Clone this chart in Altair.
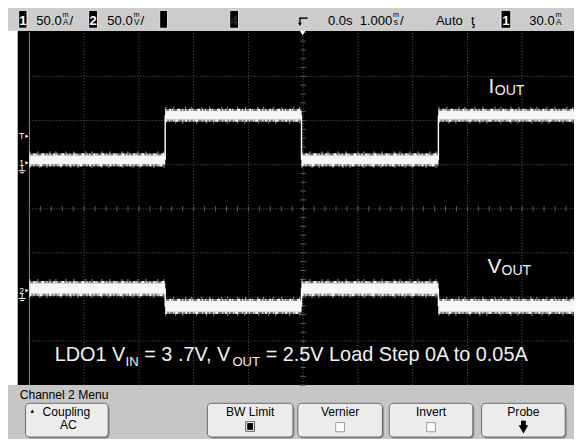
import altair as alt
import pandas as pd

# ---------------- values read from the oscilloscope screen ----------------
# time base 1.000 ms/div, delay 0.0 s -> 10 divisions from -5 ms to +5 ms
time_grid_ms = [-4, -3, -2, -1, 0, 1, 2, 3, 4]
vert_grid_div = [-3, -2, -1, 0, 1, 2, 3]

# channel 1 : load current (50.0 mA/div)
i_seg_start_ms = [-5.0, -2.52, -0.03, 2.47]
i_seg_end_ms = [-2.52, -0.03, 2.47, 4.95]
i_level_mA = [3.3, 53.8, 3.3, 53.8]
i_noise_mA = [4.8, 4.8, 4.8, 4.8]
i_edge_ms = [-2.52, -0.03, 2.47]

# channel 2 : output voltage, AC coupled (50.0 mV/div)
v_seg_start_ms = [-5.0, -2.52, -0.03, 2.47]
v_seg_end_ms = [-2.52, -0.03, 2.47, 4.95]
v_level_mV = [2.2, -18.0, 2.2, -18.0]
v_noise_mV = [6.0, 6.0, 6.0, 6.0]
v_edge_ms = [-2.52, -0.03, 2.47]

trigger_level_mA = [30.0]

# ---------------- layout (reference pixel geometry) ----------------
REF_W, REF_H = 582, 447
W, H = 566, 431
SX, SY = W / REF_W, H / REF_H
FS = (SX + SY) / 2
GRID_CX, GRID_DX = 303.5, 56.3
GRID_CY, GRID_DY = 208.2, 45.75
CH1_GND_Y, CH2_GND_Y = 160.5, 293.0
MA_PER_DIV, MV_PER_DIV = 50.0, 50.0

t_min = (0 - GRID_CX) / GRID_DX
t_max = (REF_W - GRID_CX) / GRID_DX
div_min = (GRID_CY - REF_H) / GRID_DY
div_max = GRID_CY / GRID_DY
g1 = (GRID_CY - CH1_GND_Y) / GRID_DY
g2 = (GRID_CY - CH2_GND_Y) / GRID_DY

xs = alt.Scale(domain=[t_min, t_max], nice=False, zero=False)
ds = alt.Scale(domain=[div_min, div_max], nice=False, zero=False)
s1 = alt.Scale(domain=[(div_min - g1) * MA_PER_DIV, (div_max - g1) * MA_PER_DIV], nice=False, zero=False)
s2 = alt.Scale(domain=[(div_min - g2) * MV_PER_DIV, (div_max - g2) * MV_PER_DIV], nice=False, zero=False)

HDR = "Liberation Sans, Arial, Helvetica, sans-serif"
SANS = "Liberation Sans, Arial, Helvetica, sans-serif"
ONE = pd.DataFrame({"k": [0]})


def X(x):
    return x * SX


def Y(y):
    return y * SY


def box(x0, y0, x1, y1, fill, stroke=None, sw=1.0, r=0):
    kw = dict(fill=fill, cornerRadius=r)
    if stroke:
        kw.update(stroke=stroke, strokeWidth=sw)
    else:
        kw.update(strokeWidth=0)
    return alt.Chart(ONE).mark_rect(**kw).encode(
        x=alt.value(X(x0)), x2=alt.value(X(x1)), y=alt.value(Y(y0)), y2=alt.value(Y(y1)))


def label(txt, x, y, size, color="black", font=HDR, align="left", weight="normal"):
    return alt.Chart(ONE).mark_text(
        text=txt, font=font, fontSize=size * FS, color=color, align=align,
        baseline="alphabetic", fontWeight=weight).encode(x=alt.value(X(x)), y=alt.value(Y(y)))


def hline(x0, x1, y, color="black", sw=1.0):
    return alt.Chart(ONE).mark_rule(color=color, strokeWidth=sw).encode(
        x=alt.value(X(x0)), x2=alt.value(X(x1)), y=alt.value(Y(y)))


def vline(x, y0, y1, color="black", sw=1.0):
    return alt.Chart(ONE).mark_rule(color=color, strokeWidth=sw).encode(
        x=alt.value(X(x)), y=alt.value(Y(y0)), y2=alt.value(Y(y1)))


def glyph(shape, x, y, size, color):
    return alt.Chart(ONE).mark_point(shape=shape, filled=True, size=size, color=color, opacity=1).encode(
        x=alt.value(X(x)), y=alt.value(Y(y)))


layers = []

# ---------- backgrounds ----------
layers.append(box(10, 23.5, REF_W, 391, "black"))
layers.append(box(0, 0, REF_W, 23.5, "#cccccc"))
layers.append(box(0, 391, REF_W, REF_H, "#c6c6c6"))

# ---------- graticule ----------
vg = pd.DataFrame({"t": time_grid_ms, "a": [-4] * len(time_grid_ms), "b": [4] * len(time_grid_ms)})
layers.append(alt.Chart(vg).mark_rule(color="#5c5c5c", strokeWidth=1, strokeDash=[1, 2]).encode(
    x=alt.X("t:Q", scale=xs, axis=None), y=alt.Y("a:Q", scale=ds, axis=None), y2="b:Q"))
hg = pd.DataFrame({"d": vert_grid_div, "a": [-5] * len(vert_grid_div), "b": [5] * len(vert_grid_div)})
layers.append(alt.Chart(hg).mark_rule(color="#5c5c5c", strokeWidth=1, strokeDash=[1, 2]).encode(
    y=alt.Y("d:Q", scale=ds, axis=None), x=alt.X("a:Q", scale=xs, axis=None), x2="b:Q"))
edge = pd.DataFrame({"t": [-5], "a": [-4], "b": [4]})
layers.append(alt.Chart(edge).mark_rule(color="#8a8a8a", strokeWidth=1).encode(
    x=alt.X("t:Q", scale=xs, axis=None), y=alt.Y("a:Q", scale=ds, axis=None), y2="b:Q"))
# minor ticks on the centre axes
tt = [-5 + 0.2 * k for k in range(51)]
mt = pd.DataFrame({"t": tt, "a": [-0.06] * len(tt), "b": [0.06] * len(tt)})
layers.append(alt.Chart(mt).mark_rule(color="#5c5c5c", strokeWidth=1).encode(
    x=alt.X("t:Q", scale=xs, axis=None), y=alt.Y("a:Q", scale=ds, axis=None), y2="b:Q"))
dd = [-4 + 0.2 * k for k in range(41)]
md = pd.DataFrame({"d": dd, "a": [-0.05] * len(dd), "b": [0.05] * len(dd)})
layers.append(alt.Chart(md).mark_rule(color="#5c5c5c", strokeWidth=1).encode(
    y=alt.Y("d:Q", scale=ds, axis=None), x=alt.X("a:Q", scale=xs, axis=None), x2="b:Q"))


# ---------- traces ----------
def trace(t0, t1, lvl, noise, edges, ys):
    df = pd.DataFrame({"t0": t0, "t1": t1, "lvl": lvl, "n": noise})
    df["lo"] = df.lvl - df.n
    df["hi"] = df.lvl + df.n
    df["flo"] = df.lvl - df.n - 2.4
    df["fhi"] = df.lvl + df.n + 2.4
    df["jlo"] = df.lvl - df.n - 1.3
    df["jhi"] = df.lvl + df.n + 1.3
    df["slo"] = df.lvl - df.n - 3.6
    df["shi"] = df.lvl + df.n + 3.8
    xe = alt.X("t0:Q", scale=xs, axis=None)
    out = [
        alt.Chart(df).mark_rect(color="#d8d8d8", opacity=0.55).encode(
            x=xe, x2="t1:Q", y=alt.Y("flo:Q", scale=ys, axis=None), y2="fhi:Q"),
        alt.Chart(df).mark_rect(color="#f6f6f6").encode(
            x=xe, x2="t1:Q", y=alt.Y("lo:Q", scale=ys, axis=None), y2="hi:Q"),
        alt.Chart(df).mark_rule(color="white", strokeWidth=2.4, opacity=0.95,
                                strokeDash=[1, 3, 2, 1, 1, 4, 3, 2, 1, 2]).encode(
            x=xe, x2="t1:Q", y=alt.Y("jhi:Q", scale=ys, axis=None)),
        alt.Chart(df).mark_rule(color="white", strokeWidth=2.4, opacity=0.9,
                                strokeDash=[2, 2, 1, 3, 1, 1, 3, 4, 1, 2]).encode(
            x=xe, x2="t1:Q", y=alt.Y("jlo:Q", scale=ys, axis=None)),
        alt.Chart(df).mark_rule(color="white", strokeWidth=1.6, opacity=0.75,
                                strokeDash=[1, 7, 1, 11, 1, 5, 1, 9]).encode(
            x=xe, x2="t1:Q", y=alt.Y("shi:Q", scale=ys, axis=None)),
        alt.Chart(df).mark_rule(color="white", strokeWidth=1.6, opacity=0.6,
                                strokeDash=[1, 9, 1, 6, 1, 13]).encode(
            x=xe, x2="t1:Q", y=alt.Y("slo:Q", scale=ys, axis=None)),
    ]
    ed = pd.DataFrame({"t": edges, "a": lvl[:-1], "b": lvl[1:]})
    out.append(alt.Chart(ed).mark_rule(color="white", strokeWidth=1.4).encode(
        x=alt.X("t:Q", scale=xs, axis=None), y=alt.Y("a:Q", scale=ys, axis=None), y2="b:Q"))
    return out


layers += trace(i_seg_start_ms, i_seg_end_ms, i_level_mA, i_noise_mA, i_edge_ms, s1)
layers += trace(v_seg_start_ms, v_seg_end_ms, v_level_mV, v_noise_mV, v_edge_ms, s2)


# ---------- left-hand markers (trigger level, channel grounds) ----------
def marker(val, ys, txt, ground):
    df = pd.DataFrame({"v": [val]})
    ye = alt.Y("v:Q", scale=ys, axis=None)
    out = [
        alt.Chart(df).mark_text(text=txt, font=SANS, fontSize=9 * FS, color="white",
                                baseline="middle", align="center").encode(x=alt.value(X(14)), y=ye),
        alt.Chart(df).mark_point(shape="triangle-right", filled=True, size=14, color="white",
                                 opacity=1).encode(x=alt.value(X(19.5)), y=ye),
    ]
    if ground:
        out.append(alt.Chart(df).mark_rule(color="white", strokeWidth=1, yOffset=3, y2Offset=8).encode(
            x=alt.value(X(14.5)), y=ye, y2=alt.Y2("v:Q")))
        out.append(alt.Chart(df).mark_rule(color="white", strokeWidth=1, yOffset=8).encode(
            x=alt.value(X(11)), x2=alt.value(X(18)), y=ye))
        out.append(alt.Chart(df).mark_rule(color="white", strokeWidth=1, yOffset=10).encode(
            x=alt.value(X(12.5)), x2=alt.value(X(16.5)), y=ye))
    return out


layers += marker(trigger_level_mA[0], s1, "T", False)
layers += marker(0.0, s1, "1", True)
layers += marker(0.0, s2, "2", True)

# ---------- on-screen annotations ----------
WHITE = "#f2f2f2"
layers.append(label("I", 494, 88.3, 21.5, WHITE, SANS))
layers.append(label("OUT", 500.5, 90.5, 14.5, WHITE, SANS))
layers.append(label("V", 493, 274.5, 21.5, WHITE, SANS))
layers.append(label("OUT", 507.5, 277, 14.5, WHITE, SANS))

AW = {"L": .556, "D": .722, "O": .778, "1": .556, " ": .278, "V": .667, "I": .278, "N": .722,
      "=": .584, "3": .556, ".": .278, "7": .556, ",": .278, "U": .722, "T": .611, "2": .556,
      "5": .556, "o": .556, "a": .556, "d": .556, "S": .667, "t": .278, "e": .556, "p": .556,
      "0": .556, "A": .667}
pieces = [("LDO1 V", False), ("IN", True), (" = 3 .7V, V", False), ("OUT", True),
          (" = 2.5V Load Step 0A to 0.05A", False)]
cx = 48.0
for txt, sub in pieces:
    size = 13.5 if sub else 20.5
    base = 370.8 if sub else 366.6
    lead = len(txt) - len(txt.lstrip(" "))
    x0 = cx + lead * AW[" "] * size
    layers.append(label(txt.strip(" "), x0, base, size, WHITE, SANS))
    cx += sum(AW[c] for c in txt) * size


# ---------- header bar ----------
def chan_box(x0, x1, txt, tcol="white"):
    out = [box(x0, 2.5, x1, 21, "black", "#ffffff", 0.8)]
    if txt:
        out.append(label(txt, (x0 + x1) / 2, 17.2, 13.5, tcol, HDR, "center", "bold"))
    return out


def reading(num, unit_x, top, bottom, slash=True):
    out = [label(num, unit_x - 0.8, 17.2, 13.5, "black", HDR, "right"),
           label(top, unit_x, 9.8, 7.5, "black", HDR),
           label(bottom, unit_x + 0.6, 18, 8.5, "black", HDR)]
    if slash:
        out.append(label("/", unit_x + 7.2, 17.2, 13.5, "black", HDR))
    return out


layers += chan_box(11, 19.5, "1")
layers += reading("50.0", 56, "m", "A")
layers += chan_box(83, 92, "2")
layers += reading("50.0", 129, "m", "V")
layers += chan_box(156, 164, "")
layers += chan_box(228, 237, "4", "#2a2a2a")
# delay reference symbol and marker
layers.append(hline(299.5, 308, 10.5, "black", 1.4))
layers.append(vline(300.2, 10.5, 16, "black", 1.4))
layers.append(glyph("triangle-down", 300.2, 17, 14, "black"))
layers.append(glyph("triangle-down", 303, 26, 30, "white"))
layers.append(label("0.0s", 329, 17.2, 13.5))
layers += reading("1.000", 396, "m", "s")
layers.append(label("Auto", 440, 17.2, 13.5))
layers.append(label("\u01ab", 476, 17.2, 13.5))
layers += chan_box(507, 517, "1")
layers += reading("30.0", 563, "m", "A", slash=False)

# ---------- softkey menu ----------
layers.append(label("Channel 2  Menu", 12, 405.5, 12.5))
buttons = [(18, 103), (205, 293), (298, 385), (392, 478), (487, 573)]
for x0, x1 in buttons:
    layers.append(box(x0 + 1.5, 411.5, x1 + 1.5, 446.5, "#8a8a8a", r=4))
    layers.append(box(x0, 410, x1, 445, "#ececec", "#6a6a6a", 1, r=4))
layers.append(glyph("triangle-up", 25, 418, 14, "black"))
layers.append(label("Coupling", 60, 423, 12.5, align="center"))
layers.append(label("AC", 62, 437, 12.5, align="center"))
layers.append(label("BW Limit", 249, 423, 12.5, align="center"))
layers.append(box(244.5, 429, 253.5, 439, "white", "#555555", 1))
layers.append(box(246, 430.5, 252, 437.5, "black"))
layers.append(label("Vernier", 341.5, 423, 12.5, align="center"))
layers.append(box(337, 430, 346, 439.5, "white", "#9a9a9a", 1))
layers.append(label("Invert", 435, 423, 12.5, align="center"))
layers.append(box(430.5, 430, 439.5, 439.5, "white", "#9a9a9a", 1))
layers.append(label("Probe", 530, 423, 12.5, align="center"))
layers.append(box(527.5, 428, 532.5, 434, "black"))
layers.append(glyph("triangle-down", 530, 437, 90, "black"))

chart = (
    alt.layer(*layers)
    .resolve_scale(x="independent", y="independent")
    .properties(width=W, height=H, padding=0, autosize=alt.AutoSizeParams(type="none"),
                background="white")
    .configure_view(strokeWidth=0)
)

chart.save("out.html", embed_options={"renderer": "svg", "actions": False})
